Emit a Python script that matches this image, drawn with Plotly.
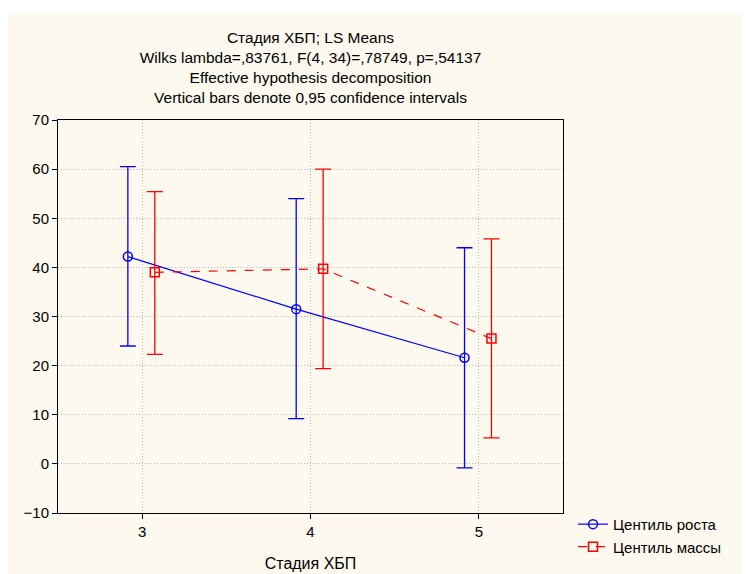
import plotly.graph_objects as go

stages = [3, 4, 5]
tick_labels = ["3", "4", "5"]

growth_mean = [42.2, 31.5, 21.6]
growth_low = [24.0, 9.2, -0.8]
growth_high = [60.5, 54.0, 44.0]

mass_mean = [39.0, 39.7, 25.5]
mass_low = [22.3, 19.4, 5.3]
mass_high = [55.4, 60.0, 45.8]

names = ["Центиль роста", "Центиль массы"]
offsets = [-0.085, 0.075]

W, H = 742, 566
L, T, B = 50, 112, 61
PW = 505
R = W - L - PW
PH = H - T - B

fig = go.Figure()

series = [
    (growth_mean, growth_low, growth_high, "#0000FF", "circle-open", "solid"),
    (mass_mean, mass_low, mass_high, "#FF0000", "square-open", "dash"),
]
for (mean, low, high, color, sym, dash), name, off in zip(series, names, offsets):
    fig.add_trace(go.Scatter(
        x=[s + off for s in stages],
        y=mean,
        name=name,
        mode="lines+markers",
        line=dict(color=color, width=1.2, dash=dash),
        marker=dict(symbol=sym, size=9, color=color, line=dict(width=1.5, color=color)),
        error_y=dict(
            type="data", symmetric=False,
            array=[h - m for h, m in zip(high, mean)],
            arrayminus=[m - l for m, l in zip(mean, low)],
            color=color, thickness=1.3, width=8,
        ),
    ))

fig.add_shape(type="rect", xref="paper", yref="paper",
              x0=-(L + 2) / PW, x1=(W - L + 10) / PW,
              y0=-(B + 10) / PH, y1=1 + (T - 4) / PH,
              fillcolor="#FDF9EF", line=dict(width=0), layer="below")

font = "Liberation Sans, Arial, sans-serif"
title_lines = [
    "Стадия ХБП; LS Means",
    "Wilks lambda=,83761, F(4, 34)=,78749, p=,54137",
    "Effective hypothesis decomposition",
    "Vertical bars denote 0,95 confidence intervals",
]

grid = dict(showgrid=True, gridcolor="#B8B8B8", griddash="1px,2px", gridwidth=1,
            showline=True, linecolor="black", linewidth=1, mirror=True,
            ticks="outside", ticklen=5, tickcolor="black", zeroline=False,
            tickfont=dict(size=15))

fig.update_layout(
    width=W, height=H,
    margin=dict(l=L, r=R, t=T, b=B, autoexpand=False),
    paper_bgcolor="white",
    plot_bgcolor="white",
    font=dict(family=font, size=14, color="black"),
    title=dict(text="<br>".join(title_lines), x=(L + PW / 2) / W, xanchor="center",
               y=1 - 35 / H, yanchor="top", font=dict(size=15.5)),
    showlegend=True,
    legend=dict(x=1.0198, xanchor="left", y=0.013, yanchor="top",
                bgcolor="rgba(0,0,0,0)", font=dict(size=15),
                tracegroupgap=0, itemwidth=30),
    xaxis=dict(range=[2.5, 5.5], tickvals=stages, ticktext=tick_labels,
               title=dict(text="Стадия ХБП", standoff=18, font=dict(size=16)),
               **grid),
    yaxis=dict(range=[-10, 70], dtick=10, **grid),
)

fig.write_html("out.html")
